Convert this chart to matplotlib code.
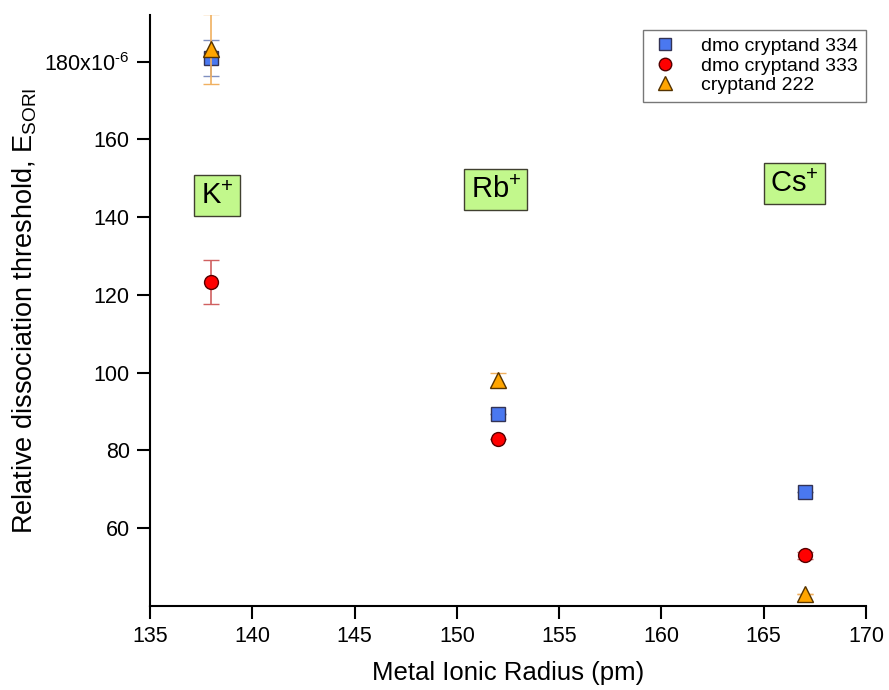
import matplotlib.pyplot as plt
from matplotlib.lines import Line2D

plt.rcParams['font.family'] = ['Liberation Sans', 'DejaVu Sans']
plt.rcParams['mathtext.fontset'] = 'custom'
plt.rcParams['mathtext.rm'] = 'Liberation Sans'
plt.rcParams['mathtext.it'] = 'Liberation Sans:italic'

radius = [138, 152, 167]
dmo334 = [181.0, 89.4, 69.3]
dmo334_err = [4.6, 0, 0]
dmo333 = [123.4, 83.0, 53.0]
dmo333_err = [5.7, 0, 0.8]
c222 = [183.2, 98.2, 43.0]
c222_err = [9.0, 1.8, 0]

ions = ['K$^{+}$', 'Rb$^{+}$', 'Cs$^{+}$']
ion_x = [138.27, 151.9, 166.5]
ion_y = [145.5, 147.1, 148.6]

yticks = [60, 80, 100, 120, 140, 160, 180]
yticklabels = ['60', '80', '100', '120', '140', '160', '180x10$^{\\mathrm{\\text{-}6}}$']

fig = plt.figure(figsize=(8.89, 6.9), dpi=100)
ax = fig.add_axes([150/889, 84/690, 716/889, 591/690])

ax.errorbar(radius, dmo334, yerr=dmo334_err, fmt='s', color='#4a78f0', mec='#333355',
            ms=10, mew=1, ecolor='#8090c0', capsize=6, elinewidth=1.2, zorder=3)
ax.errorbar(radius, dmo333, yerr=dmo333_err, fmt='o', color='#ff0000', mec='#550000',
            ms=10, mew=1, ecolor='#d06060', capsize=6, elinewidth=1.2, zorder=3)
ax.errorbar(radius, c222, yerr=c222_err, fmt='^', color='#ffa500', mec='#553300',
            ms=11, mew=1, ecolor='#f0b060', capsize=6, elinewidth=1.2, zorder=4)

for s, x, y in zip(ions, ion_x, ion_y):
    ax.text(x, y, s, fontsize=21, ha='center', va='center',
            bbox=dict(boxstyle='square,pad=0.22', fc='#c2f88c', ec='#404030', lw=1))

ax.set_xlim(135, 170)
ax.set_ylim(40, 192)
ax.set_xticks(range(135, 171, 5))
ax.set_yticks(yticks)
ax.set_yticklabels(yticklabels)
ax.tick_params(labelsize=15.5, length=9.5, width=1.5, color='black', pad=5)
for side in ['top', 'right']:
    ax.spines[side].set_visible(False)
for side in ['left', 'bottom']:
    ax.spines[side].set_linewidth(1.5)

ax.set_xlabel('Metal Ionic Radius (pm)', fontsize=18.5, labelpad=10)
ax.set_ylabel('Relative dissociation threshold, E$_{\\mathrm{SORI}}$', fontsize=19.5, labelpad=4)

handles = [
    Line2D([], [], ls='none', marker='s', mfc='#4a78f0', mec='#333355', ms=9),
    Line2D([], [], ls='none', marker='o', mfc='#ff0000', mec='#550000', ms=9),
    Line2D([], [], ls='none', marker='^', mfc='#ffa500', mec='#553300', ms=10),
]
labels = ['dmo cryptand 334', 'dmo cryptand 333', 'cryptand 222']
leg = ax.legend(handles, labels, loc='upper right', bbox_to_anchor=(1.0, 0.975), fontsize=14,
                frameon=True, fancybox=False, edgecolor='#555555', handletextpad=1.1,
                handlelength=1.5, borderpad=0.4, labelspacing=0.1, borderaxespad=0)
leg.get_frame().set_linewidth(1)

fig.savefig('out.png', dpi=100)
